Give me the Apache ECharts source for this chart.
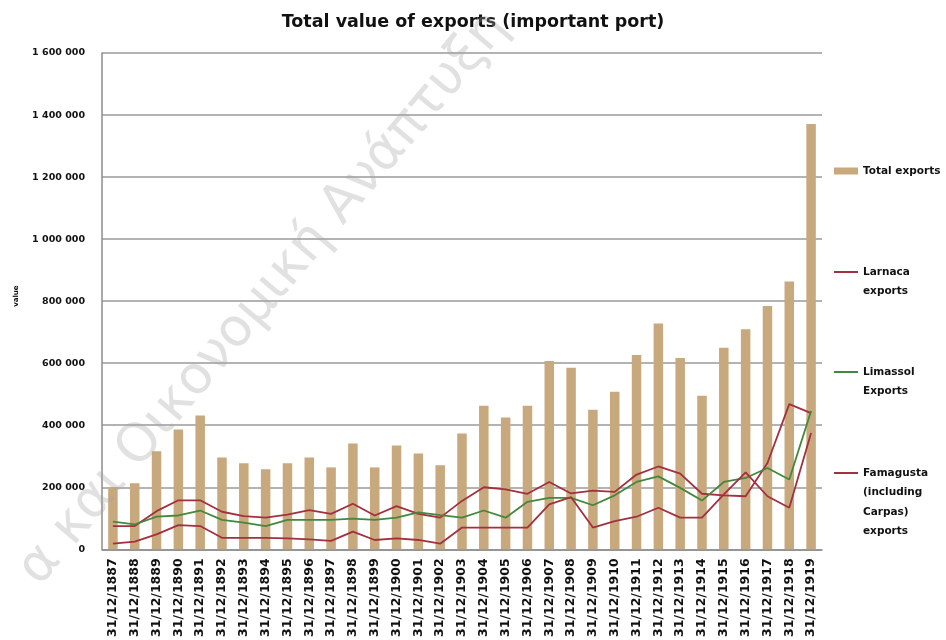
<!DOCTYPE html>
<html>
<head>
<meta charset="utf-8">
<script src="https://cdn.jsdelivr.net/npm/echarts@6/dist/echarts.min.js"></script>
<style>
html,body{margin:0;padding:0;background:#fff;}
#chart{width:946px;height:640px;}
</style>
</head>
<body>
<div id="chart"></div>
<script>
const categories = ["31/12/1887","31/12/1888","31/12/1889","31/12/1890","31/12/1891","31/12/1892","31/12/1893","31/12/1894","31/12/1895","31/12/1896","31/12/1897","31/12/1898","31/12/1899","31/12/1900","31/12/1901","31/12/1902","31/12/1903","31/12/1904","31/12/1905","31/12/1906","31/12/1907","31/12/1908","31/12/1909","31/12/1910","31/12/1911","31/12/1912","31/12/1913","31/12/1914","31/12/1915","31/12/1916","31/12/1917","31/12/1918","31/12/1919"];
const totalExports = [200000,213000,316000,386000,431000,296000,277000,258000,277000,296000,264000,341000,264000,335000,309000,271000,373000,463000,425000,463000,607000,585000,450000,508000,626000,728000,617000,495000,650000,709000,784000,863000,1371000];
const larnacaExports = [75000,75000,123000,158000,158000,121000,107000,102000,112000,126000,114000,147000,109000,139000,114000,102000,156000,200000,193000,179000,217000,180000,189000,185000,241000,267000,244000,179000,174000,171000,278000,468000,439000];
const limassolExports = [89000,80000,105000,109000,125000,95000,86000,75000,95000,95000,95000,99000,95000,102000,119000,110000,102000,125000,102000,153000,166000,166000,142000,174000,217000,235000,198000,157000,217000,230000,262000,225000,446000];
const famagustaExports = [18000,25000,48000,78000,75000,37000,37000,37000,35000,32000,27000,57000,30000,35000,30000,18000,70000,70000,70000,70000,145000,168000,70000,91000,105000,134000,102000,102000,177000,248000,171000,134000,375000];
const seriesNames = ["Total exports","Larnaca exports","Limassol Exports","Famagusta (including Carpas) exports"];
const legendLabels = ["Total exports","Larnaca\nexports","Limassol\nExports","Famagusta\n(including\nCarpas)\nexports"];
const yTicks = [0,200000,400000,600000,800000,1000000,1200000,1400000,1600000];

const FONT = "'DejaVu Sans','Liberation Sans',sans-serif";
const LH = 19.5;
// icon centre y for each legend entry (first text line aligned with the icon)
const legendIconY = [171, 272, 372, 473];
function legendFor(i, color) {
  const n = legendLabels[i].split("\n").length;
  const text = "\n".repeat(n - 1) + legendLabels[i];
  const h = (2 * n - 1) * LH;
  return {
    left: 834, top: legendIconY[i] - h / 2, orient: 'vertical',
    data: [{name: seriesNames[i], icon: 'rect', itemStyle: {color: color}}],
    itemWidth: 24, itemHeight: i === 0 ? 7 : 2, itemGap: 0, padding: 0,
    formatter: () => text,
    textStyle: {fontFamily: FONT, fontWeight: 'bold', fontSize: 10.5, color: '#111', lineHeight: LH},
    selectedMode: false
  };
}
const BAR = '#C8A87D', RED = '#A3303F', GREEN = '#43883C';
const chart = echarts.init(document.getElementById('chart'));
chart.setOption({
  animation: false,
  backgroundColor: '#fff',
  title: {
    text: 'Total value of exports (important port)', left: 'center', top: 8,
    textStyle: {fontFamily: FONT, fontWeight: 'bold', fontSize: 17.5, color: '#111'}
  },
  legend: [legendFor(0, BAR), legendFor(1, RED), legendFor(2, GREEN), legendFor(3, RED)],
  grid: {left: 102, right: 124, top: 53, bottom: 88},
  xAxis: {
    type: 'category', data: categories,
    axisLine: {lineStyle: {color: '#8c8c8c', width: 1.5}},
    axisTick: {show: false},
    axisLabel: {rotate: 90, interval: 0, fontFamily: FONT, fontWeight: 'bold', fontSize: 12.5, color: '#111', margin: 9}
  },
  yAxis: {
    type: 'value', min: 0, max: 1600000, interval: 200000,
    name: 'value', nameLocation: 'middle', nameGap: 82, nameRotate: 90,
    nameTextStyle: {fontFamily: FONT, fontWeight: 'bold', fontSize: 7, color: '#111', padding: [0, 0, 0, 10]},
    axisLine: {show: true, lineStyle: {color: '#8c8c8c', width: 1.5}},
    axisTick: {show: false},
    splitLine: {lineStyle: {color: '#9a9a9a', width: 1.5}},
    axisLabel: {
      fontFamily: FONT, fontWeight: 'bold', fontSize: 9.5, color: '#111', margin: 17,
      formatter: v => yTicks.includes(v) ? String(v).replace(/\B(?=(\d{3})+(?!\d))/g, ' ') : ''
    }
  },
  series: [
    {name: seriesNames[0], type: 'bar', data: totalExports, barWidth: 9.5, itemStyle: {color: BAR}, z: 1},
    {name: seriesNames[1], type: 'line', data: larnacaExports, symbol: 'none', lineStyle: {color: RED, width: 1.8}, itemStyle: {color: RED}, z: 3},
    {name: seriesNames[2], type: 'line', data: limassolExports, symbol: 'none', lineStyle: {color: GREEN, width: 1.8}, itemStyle: {color: GREEN}, z: 3},
    {name: seriesNames[3], type: 'line', data: famagustaExports, symbol: 'none', lineStyle: {color: RED, width: 1.8}, itemStyle: {color: RED}, z: 3}
  ],
  graphic: [{
    type: 'text', left: 9, top: 2, z: 100, silent: true,
    rotation: 50 * Math.PI / 180,
    style: {text: 'α και Οικονομική Ανάπτυξη', fontFamily: "'DejaVu Sans','Noto Sans',sans-serif", fontSize: 53, fill: 'rgba(165,165,165,0.33)'}
  }]
});
</script>
</body>
</html>
